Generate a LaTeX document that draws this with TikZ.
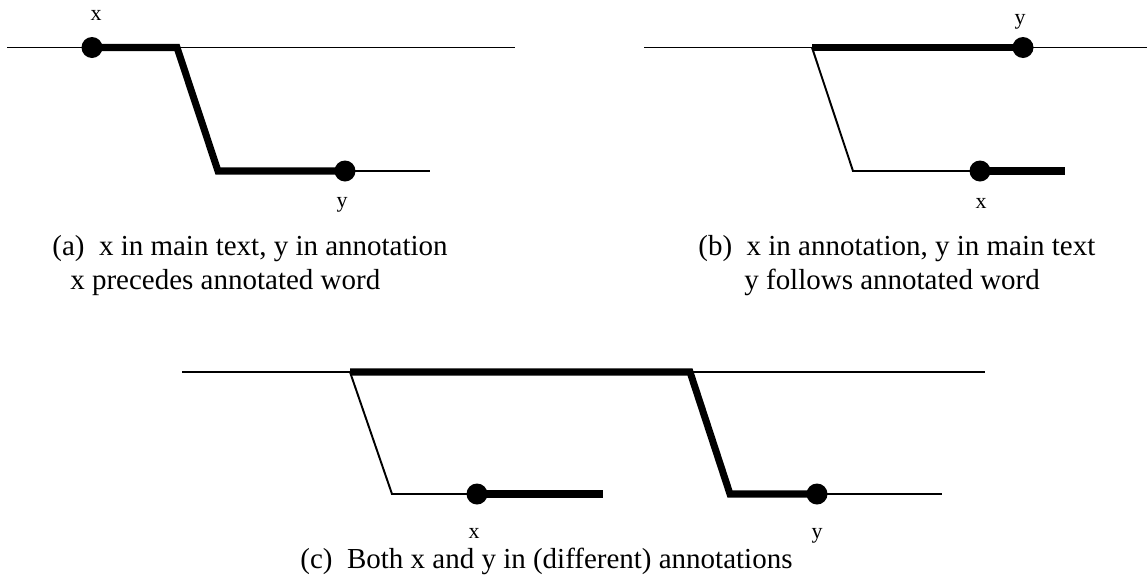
\documentclass[tikz,border=0pt]{standalone}
\usepackage{fontspec}
\setmainfont{Liberation Serif}
\newcommand{\capt}{\fontsize{16.5}{19}\selectfont}
\newcommand{\lbl}{\fontsize{12.5}{15}\selectfont}
\tikzset{
  mainline/.style={black,line width=1.1pt},
  annline/.style={black,line width=4pt},
  ptdot/.style={black},
  ptlabel/.style={anchor=base,inner sep=0,font=\lbl},
  captline/.style={anchor=base west,inner sep=0,font=\capt}
}
\begin{document}
\begin{tikzpicture}[x=0.02cm,y=-0.02cm]
\useasboundingbox (0,0) rectangle (1147,582);
% (a) x in main text, y in annotation
\coordinate (a0) at (7,47.5);
\coordinate (a1) at (515,47.5);
\coordinate (ax) at (92,47.5);
\coordinate (ab) at (177,47.5);
\coordinate (ac) at (218,171);
\coordinate (ay) at (345,171);
\coordinate (ae) at (430,171);
\draw[mainline] (a0) -- (a1);
\draw[mainline] (ay) -- (ae);
\draw[annline] (ax) -- (ab) -- (ac) -- (ay);
\fill[ptdot] (ax) circle (10.5);
\fill[ptdot] (ay) circle (10.5);
\node[ptlabel] (axl) at (96,20) {x};
\node[ptlabel] (ayl) at (342,207) {y};
\node[captline] (acap1) at (52,255) {(a)\ \ x in main text, y in annotation};
\node[captline] (acap2) at (70,289) {x precedes annotated word};
% (b) x in annotation, y in main text
\coordinate (b0) at (644,47.5);
\coordinate (b1) at (1147,47.5);
\coordinate (bb) at (812,47.5);
\coordinate (by) at (1023,47.5);
\coordinate (bc) at (853,171);
\coordinate (bx) at (980,171);
\coordinate (be) at (1065,171);
\draw[mainline] (b0) -- (b1);
\draw[mainline] (bb) -- (bc) -- (bx);
\draw[annline] (bb) -- (by);
\draw[annline] (bx) -- (be);
\fill[ptdot] (by) circle (10.5);
\fill[ptdot] (bx) circle (10.5);
\node[ptlabel] (byl) at (1020,24) {y};
\node[ptlabel] (bxl) at (981,208) {x};
\node[captline] (bcap1) at (698,255) {(b)\ \ x in annotation, y in main text};
\node[captline] (bcap2) at (744,289) {y follows annotated word};
% (c) both in annotations
\coordinate (c0) at (182,372);
\coordinate (c1) at (985,372);
\coordinate (cb) at (350,372);
\coordinate (cd) at (690,372);
\coordinate (cc) at (392,494);
\coordinate (cx) at (477,494);
\coordinate (ce) at (603,494);
\coordinate (cf) at (730,494);
\coordinate (cy) at (817,494);
\coordinate (cg) at (942,494);
\draw[mainline] (c0) -- (c1);
\draw[mainline] (cb) -- (cc) -- (cx);
\draw[mainline] (cy) -- (cg);
\draw[annline] (cb) -- (cd) -- (cf) -- (cy);
\draw[annline] (cx) -- (ce);
\fill[ptdot] (cx) circle (10.5);
\fill[ptdot] (cy) circle (10.5);
\node[ptlabel] (cxl) at (474,538) {x};
\node[ptlabel] (cyl) at (817,538) {y};
\node[captline] (ccap) at (300,568) {(c)\ \ Both x and y in (different) annotations};
\end{tikzpicture}
\end{document}
